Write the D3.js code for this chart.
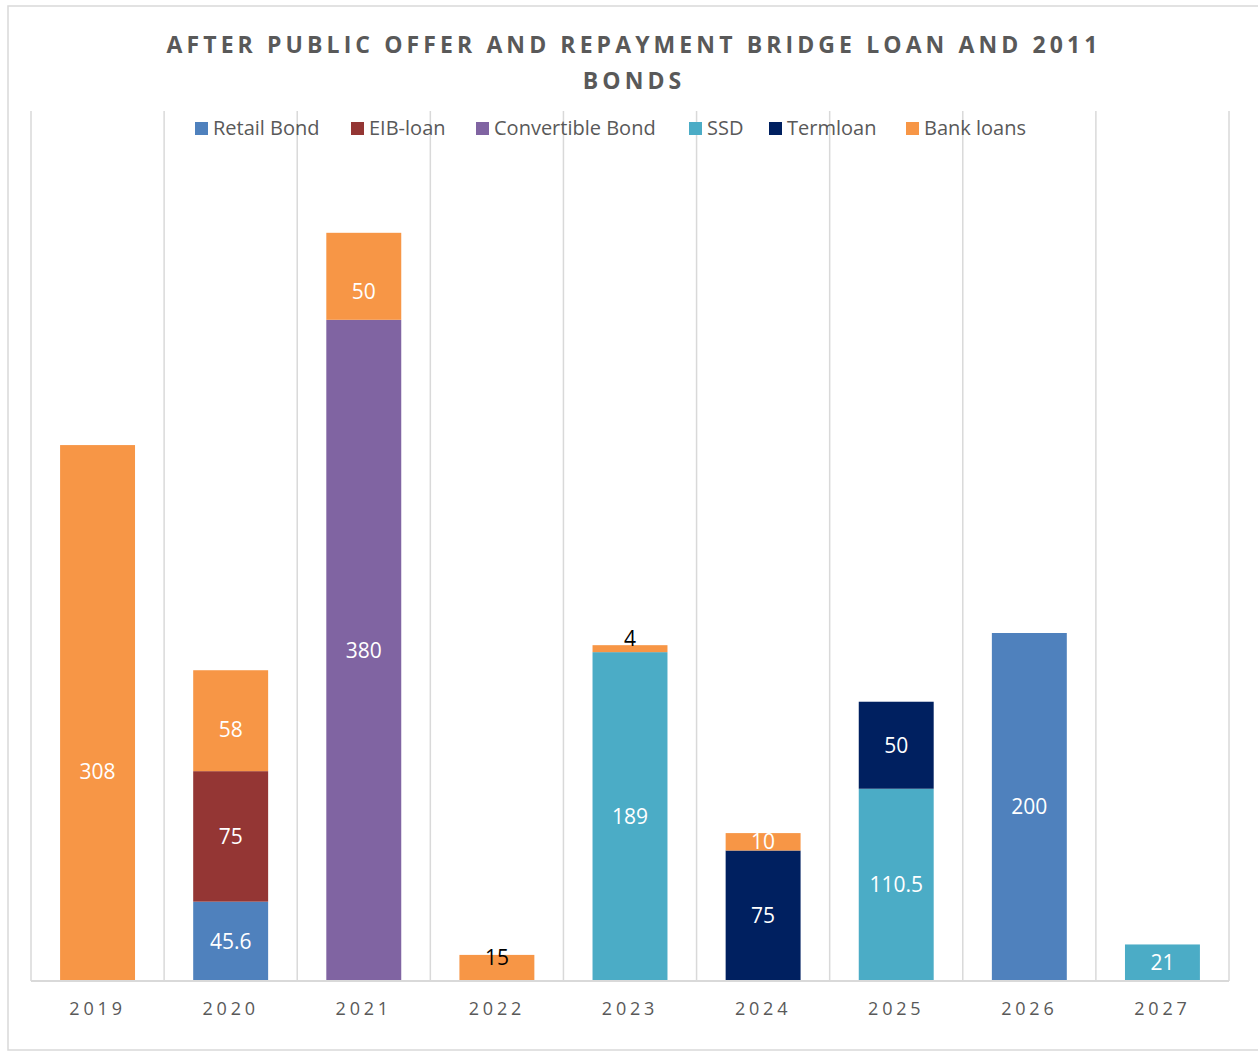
<!DOCTYPE html>
<html>
<head>
<meta charset="utf-8">
<script src="https://cdn.jsdelivr.net/npm/d3@7"></script>
<style>
  body { margin: 0; background: #fff; }
  text { font-family: "Open Sans", "Liberation Sans", sans-serif; }
</style>
</head>
<body>
<svg id="chart" width="1258" height="1053"></svg>
<script>
const years = ["2019", "2020", "2021", "2022", "2023", "2024", "2025", "2026", "2027"]
const seriesNames = ["Retail Bond", "EIB-loan", "Convertible Bond", "SSD", "Termloan", "Bank loans"]
const seriesColors = ["#4f81bd", "#943634", "#8064a2", "#4bacc6", "#002060", "#f79646"]
// one value per year, 0 = nothing
const retailBond = [0, 45.6, 0, 0, 0, 0, 0, 200, 0]
const eibLoan = [0, 75, 0, 0, 0, 0, 0, 0, 0]
const convertibleBond = [0, 0, 380, 0, 0, 0, 0, 0, 0]
const ssd = [0, 0, 0, 0, 189, 0, 110.5, 0, 21]
const termloan = [0, 0, 0, 0, 0, 75, 50, 0, 0]
const bankLoans = [308, 58, 50, 15, 4, 10, 0, 0, 0]
const titleLines = ["AFTER PUBLIC OFFER AND REPAYMENT BRIDGE LOAN AND 2011", "BONDS"]

const allSeries = [retailBond, eibLoan, convertibleBond, ssd, termloan, bankLoans]
let rows = years.map((y, i) => {
    let r = {year: y}
    seriesNames.forEach((s, k) => r[s] = allSeries[k][i])
    return r
})
let stacked = d3.stack().keys(seriesNames)(rows)

let svg = d3.select("#chart")
let plotLeft = 31, plotRight = 1229, plotBase = 981, plotTop = 111

// outer frame
svg.append("rect").attr("x", 8).attr("y", 6).attr("width", 1270).attr("height", 1044)
    .attr("fill", "none").attr("stroke", "#d9d9d9").attr("stroke-width", 1.5)

let xScale = d3.scaleBand().domain(years).range([plotLeft, plotRight]).paddingInner(0.437).paddingOuter(0.2185)
let yScale = d3.scaleLinear().domain([0, 500]).range([plotBase, plotTop])
let colorScale = d3.scaleOrdinal().domain(seriesNames).range(seriesColors)

// vertical gridlines between categories
let step = xScale.step()
let gridX = d3.range(years.length + 1).map(i => plotLeft + i * step)
svg.append("g").selectAll("line").data(gridX).enter().append("line")
    .attr("x1", d => d).attr("x2", d => d)
    .attr("y1", yScale(500)).attr("y2", plotBase)
    .attr("stroke", "#d9d9d9").attr("stroke-width", 1.5)

// bars
let layers = svg.append("g").selectAll("g").data(stacked).enter().append("g")
    .attr("fill", d => colorScale(d.key))
layers.selectAll("rect").data(d => d.filter(p => p[1] - p[0] > 0)).enter().append("rect")
    .attr("x", d => xScale(d.data.year))
    .attr("width", xScale.bandwidth())
    .attr("y", d => yScale(d[1]))
    .attr("height", d => yScale(d[0]) - yScale(d[1]))

// data labels (a few were nudged by hand in the original)
let nudge = {"2019": 59, "2020": 9, "2021": 15}
layers.each(function (layer) {
    d3.select(this).selectAll("text").data(layer.filter(p => p[1] - p[0] > 0)).enter().append("text")
        .attr("x", d => xScale(d.data.year) + xScale.bandwidth() / 2)
        .attr("y", d => {
            let v = d[1] - d[0]
            if (layer.key == "Bank loans" && v < 8) return yScale(d[1]) - 7
            if (layer.key == "Bank loans" && d.data.year == "2022") return yScale(d[1]) + 3
            let mid = (yScale(d[0]) + yScale(d[1])) / 2
            if (layer.key == "Bank loans" && nudge[d.data.year]) mid += nudge[d.data.year]
            return mid
        })
        .attr("dy", "0.35em")
        .attr("text-anchor", "middle")
        .style("font-size", "21px")
        .attr("fill", d => (layer.key == "Bank loans" && (d.data.year == "2022" || d.data.year == "2023")) ? "#000" : "#fff")
        .text(d => d3.format("~g")(d[1] - d[0]))
})

// x axis
svg.append("line").attr("x1", plotLeft).attr("x2", plotRight).attr("y1", plotBase).attr("y2", plotBase)
    .attr("stroke", "#d9d9d9").attr("stroke-width", 2)
let x_axis = d3.axisBottom(xScale).tickSize(0).tickPadding(21)
let gx = svg.append("g").attr("transform", `translate(0,${plotBase})`).call(x_axis)
gx.select(".domain").remove()
gx.selectAll("text").style("font-size", "18px").style("letter-spacing", "3.8px")
    .attr("fill", "#595959").attr("font-family", "Open Sans, sans-serif")

// title
svg.append("g").selectAll("text").data(titleLines).enter().append("text")
    .attr("x", 634).attr("y", (d, i) => 53 + i * 36)
    .attr("text-anchor", "middle")
    .style("font-size", "23px").style("font-weight", "bold").style("letter-spacing", "4.1px")
    .attr("fill", "#595959")
    .text(d => d)

// legend
let legendX = [195, 351, 476, 689, 769, 906]
let legend = svg.append("g").selectAll("g").data(seriesNames).enter().append("g")
    .attr("transform", (d, i) => `translate(${legendX[i]},128)`)
legend.append("rect").attr("x", 0).attr("y", -6).attr("width", 13).attr("height", 13)
    .attr("fill", d => colorScale(d))
legend.append("text").attr("x", 18).attr("y", 0).attr("dy", "0.35em")
    .style("font-size", "20px").attr("fill", "#595959").text(d => d)
</script>
</body>
</html>
